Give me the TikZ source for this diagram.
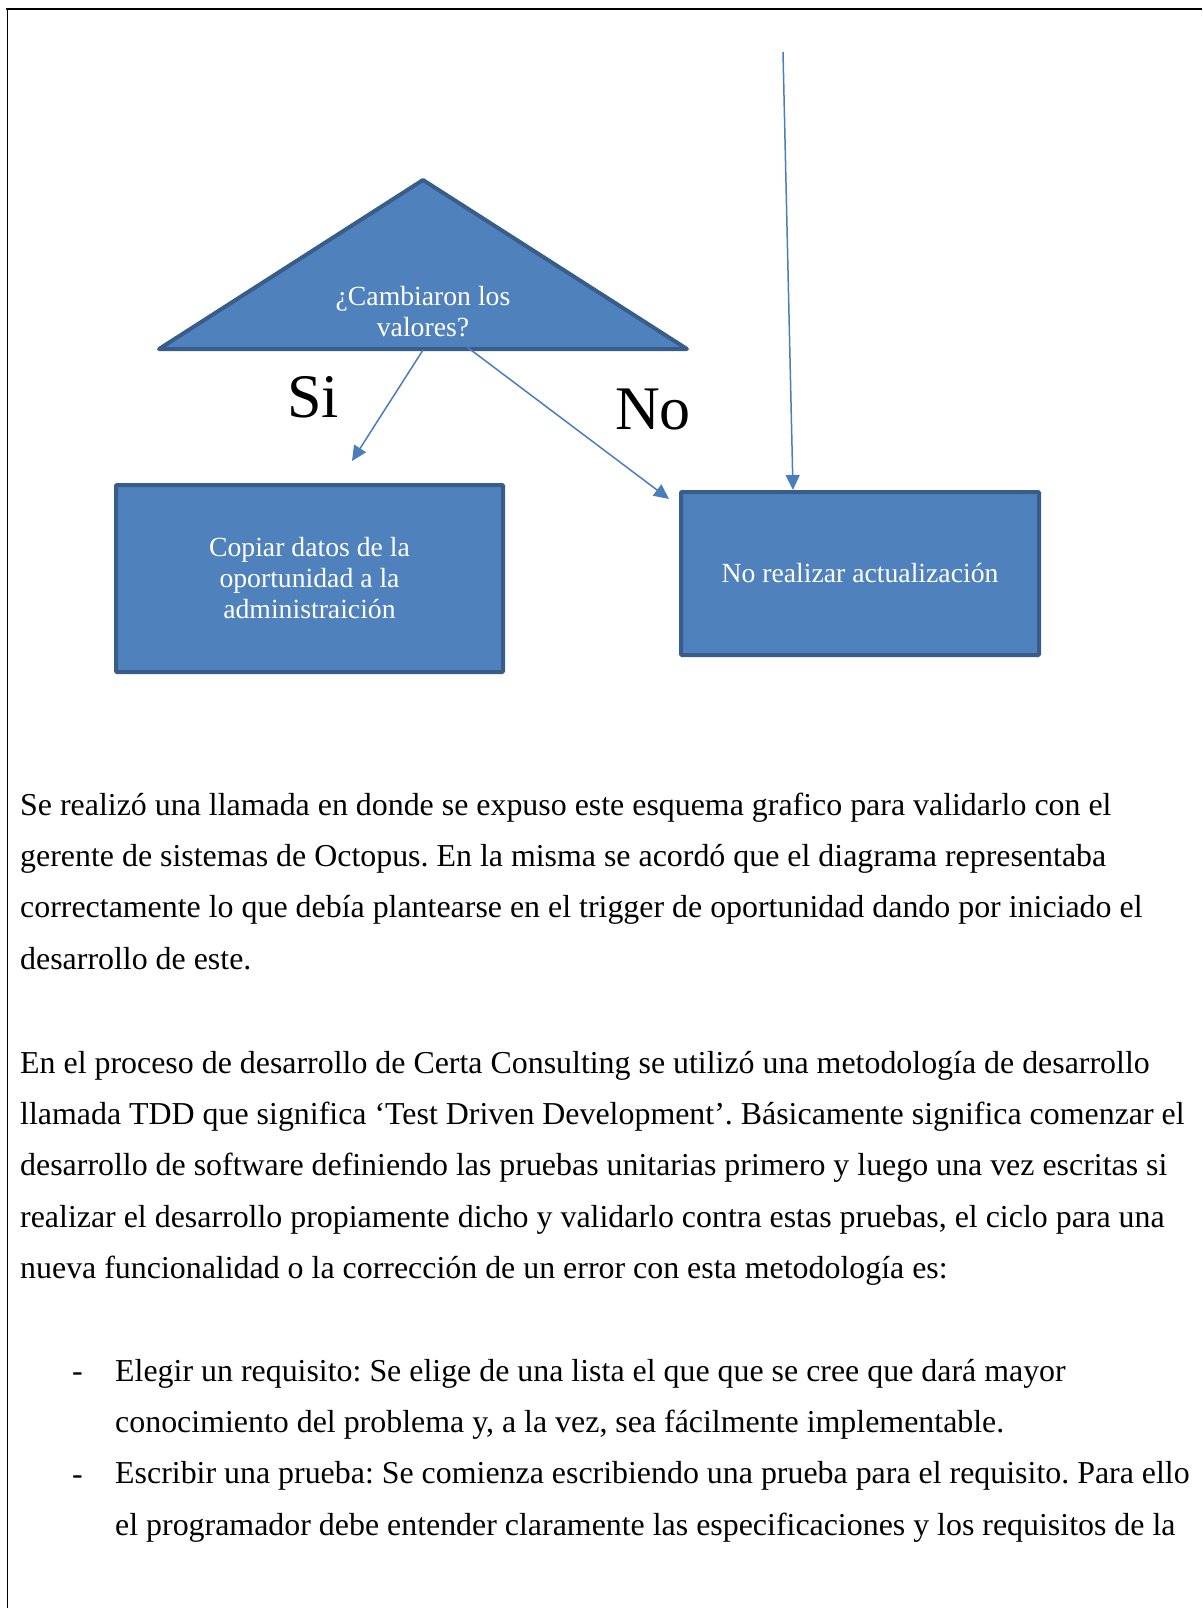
\documentclass[tikz,border=0pt]{standalone}
\usepackage{fontspec}
\setmainfont{Liberation Serif}
\usetikzlibrary{arrows.meta}
\frenchspacing
\definecolor{boxfill}{HTML}{4F81BD}
\definecolor{boxline}{HTML}{385D8A}
\definecolor{arrowline}{HTML}{4A7EBB}
\tikzset{
  box/.style={draw=boxline, fill=boxfill, line width=4pt, rounded corners=1pt,
    text=white, align=center, font=\fontsize{27.7}{31}\selectfont},
  link/.style={draw=arrowline, line width=1.5pt,
    -{Triangle[length=15pt,width=14pt]}},
  txt/.style={anchor=base west, inner sep=0pt, font=\fontsize{31.9}{51.4}\selectfont},
  big/.style={anchor=base, inner sep=0pt, font=\fontsize{62}{62}\selectfont}
}
\begin{document}
\begin{tikzpicture}[x=1pt,y=-1pt]
  \useasboundingbox (0,0) rectangle (1202,1608);
  %Page frame
  \draw[line width=2.5pt] (6,9) -- (1202,9);
  \draw[line width=1pt] (7,8) -- (7,1608);

  %Decision
  \draw[boxline, fill=boxfill, line width=4pt, line join=round]
    (159,349) -- (423,180) -- (687,349) -- cycle;
  \node[text=white, align=center, font=\fontsize{27.7}{31}\selectfont] (q) at (423,312)
    {¿Cambiaron los\\valores?};
  \coordinate (qsi) at (423,350);
  \coordinate (qno) at (467,347);

  \node[box, minimum width=387pt, minimum height=187pt] (copiar) at (309.5,578.5)
    {Copiar datos de la\\oportunidad a la\\administraición};
  \node[box, minimum width=358pt, minimum height=163pt] (nada) at (860,573.5)
    {No realizar actualización};

  \coordinate (entrada) at (783,52);
  \coordinate (sitip) at (352,461);
  \coordinate (notip) at (669,499);

  \draw[link] (qsi) -- (sitip);
  \draw[link] (qno) -- (notip);
  \draw[link] (entrada) -- (nada.north -| 793,0);

  \node[big] (si) at (313,417) {Si};
  \node[big] (no) at (653,429) {No};

  %Body text
  \foreach \t [count=\i] in {
    {Se realizó una llamada en donde se expuso este esquema grafico para validarlo con el},
    {gerente de sistemas de Octopus. En la misma se acordó que el diagrama representaba},
    {correctamente lo que debía plantearse en el trigger de oportunidad dando por iniciado el},
    {desarrollo de este.}}
    \node[txt] (pa\i) at (20,{815+51.4*(\i-1)}) {\t};
  \foreach \t [count=\i] in {
    {En el proceso de desarrollo de Certa Consulting se utilizó una metodología de desarrollo},
    {llamada TDD que significa ‘Test Driven Development’. Básicamente significa comenzar el},
    {desarrollo de software definiendo las pruebas unitarias primero y luego una vez escritas si},
    {realizar el desarrollo propiamente dicho y validarlo contra estas pruebas, el ciclo para una},
    {nueva funcionalidad o la corrección de un error con esta metodología es:}}
    \node[txt] (pb\i) at (20,{1073+51.4*(\i-1)}) {\t};

  \node[txt] (dash1) at (72,1381) {-};
  \node[txt] (dash2) at (72,1484) {-};
  \foreach \t [count=\i] in {
    {Elegir un requisito: Se elige de una lista el que que se cree que dará mayor},
    {conocimiento del problema y, a la vez, sea fácilmente implementable.},
    {Escribir una prueba: Se comienza escribiendo una prueba para el requisito. Para ello},
    {el programador debe entender claramente las especificaciones y los requisitos de la}}
    \node[txt] (li\i) at (115,{1381+51.4*(\i-1)}) {\t};
\end{tikzpicture}
\end{document}
